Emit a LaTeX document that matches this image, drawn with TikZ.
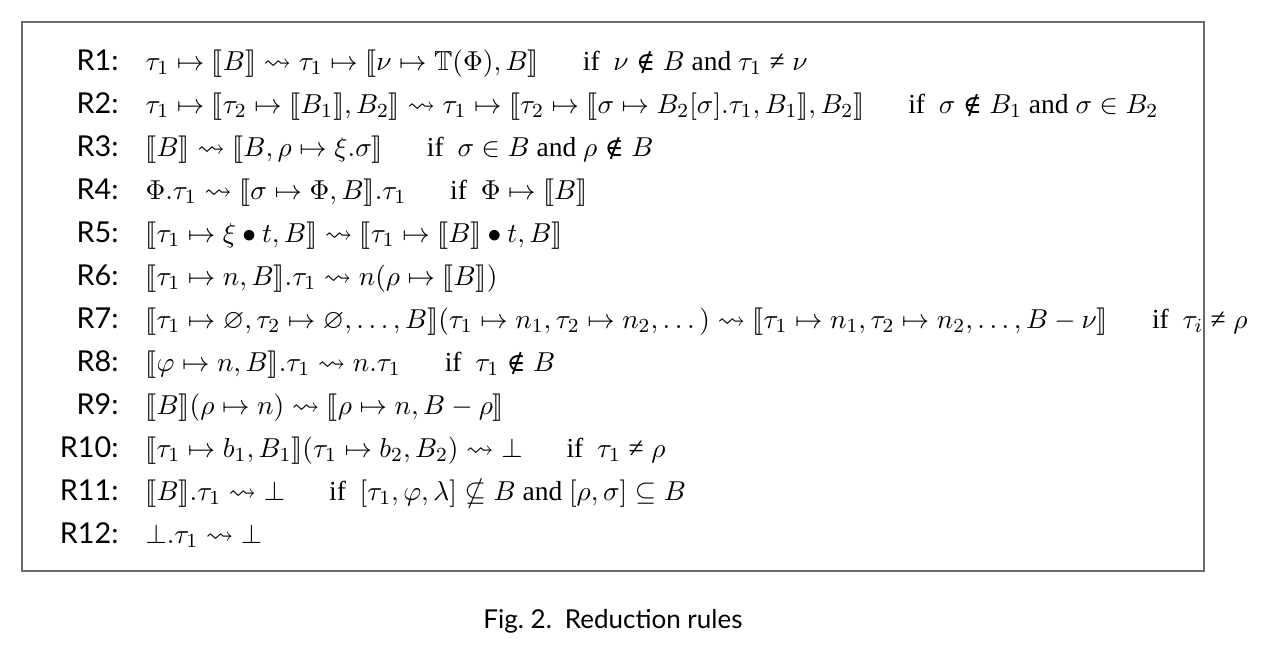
\documentclass[tikz,border=0pt]{standalone}
\usepackage{amsmath}
\usepackage{amssymb}
\usepackage{stmaryrd}
\usepackage{fontspec}
\setmainfont{Liberation Serif}
\setsansfont{Lato}
\newfontfamily\symfont[Scale=0.92]{DejaVu Serif}
\usepackage{tikz}
\usetikzlibrary{positioning}

\newcommand{\sem}[1]{\llbracket #1 \rrbracket}
\newcommand{\cond}[1]{\hspace{1.6em}\text{if}\ \ #1}
\newcommand{\nin}{\mathrel{\text{\symfont ∉}}}
\newcommand{\neqq}{\mathrel{\text{≠}}}

\tikzset{
    rulename/.style={anchor=base east, inner sep=0pt, font=\fontsize{11.5}{14}\sffamily},
    rulebody/.style={anchor=base west, inner sep=0pt, font=\fontsize{11}{13}\selectfont},
    frameline/.style={draw=black!58, line width=0.7pt}
}

\begin{document}
\begin{tikzpicture}[x=0.4pt, y=-0.4pt]
        \useasboundingbox (0,0) rectangle (1280,655);
        \draw[frameline] (22,22) rectangle (1204,571);

        \node[rulename] (l1) at (119,70) {R1:};
        \node[rulebody] (r1) at (145,70) {$\tau_1 \mapsto \sem{B} \leadsto \tau_1 \mapsto \sem{\nu \mapsto \mathbb{T}(\Phi), B} \cond{\nu \nin B \text{ and } \tau_1 \neqq \nu}$};
        \node[rulename] (l2) at (119,113) {R2:};
        \node[rulebody] (r2) at (145,113) {$\tau_1 \mapsto \sem{\tau_2 \mapsto \sem{B_1}, B_2} \leadsto \tau_1 \mapsto \sem{\tau_2 \mapsto \sem{\sigma \mapsto B_2[\sigma].\tau_1, B_1}, B_2} \cond{\sigma \nin B_1 \text{ and } \sigma \in B_2}$};
        \node[rulename] (l3) at (119,156) {R3:};
        \node[rulebody] (r3) at (145,156) {$\sem{B} \leadsto \sem{B, \rho \mapsto \xi.\sigma} \cond{\sigma \in B \text{ and } \rho \nin B}$};
        \node[rulename] (l4) at (119,199) {R4:};
        \node[rulebody] (r4) at (145,199) {$\Phi.\tau_1 \leadsto \sem{\sigma \mapsto \Phi, B}.\tau_1 \cond{\Phi \mapsto \sem{B}}$};
        \node[rulename] (l5) at (119,242) {R5:};
        \node[rulebody] (r5) at (145,242) {$\sem{\tau_1 \mapsto \xi \bullet t, B} \leadsto \sem{\tau_1 \mapsto \sem{B} \bullet t, B}$};
        \node[rulename] (l6) at (119,285) {R6:};
        \node[rulebody] (r6) at (145,285) {$\sem{\tau_1 \mapsto n, B}.\tau_1 \leadsto n(\rho \mapsto \sem{B})$};
        \node[rulename] (l7) at (119,328) {R7:};
        \node[rulebody] (r7) at (145,328) {$\sem{\tau_1 \mapsto \varnothing, \tau_2 \mapsto \varnothing, \ldots, B}(\tau_1 \mapsto n_1, \tau_2 \mapsto n_2, \ldots\,) \leadsto \sem{\tau_1 \mapsto n_1, \tau_2 \mapsto n_2, \ldots, B - \nu} \cond{\tau_i \neqq \rho}$};
        \node[rulename] (l8) at (119,371) {R8:};
        \node[rulebody] (r8) at (145,371) {$\sem{\varphi \mapsto n, B}.\tau_1 \leadsto n.\tau_1 \cond{\tau_1 \nin B}$};
        \node[rulename] (l9) at (119,414) {R9:};
        \node[rulebody] (r9) at (145,414) {$\sem{B}(\rho \mapsto n) \leadsto \sem{\rho \mapsto n, B - \rho}$};
        \node[rulename] (l10) at (119,457) {R10:};
        \node[rulebody] (r10) at (145,457) {$\sem{\tau_1 \mapsto b_1, B_1}(\tau_1 \mapsto b_2, B_2) \leadsto \bot \cond{\tau_1 \neqq \rho}$};
        \node[rulename] (l11) at (119,500) {R11:};
        \node[rulebody] (r11) at (145,500) {$\sem{B}.\tau_1 \leadsto \bot \cond{[\tau_1, \varphi, \lambda] \nsubseteq B \text{ and } [\rho, \sigma] \subseteq B}$};
        \node[rulename] (l12) at (119,543) {R12:};
        \node[rulebody] (r12) at (145,543) {$\bot.\tau_1 \leadsto \bot$};

        % caption under the frame
        \node[anchor=base, inner sep=0pt, font=\fontsize{10.4}{12}\sffamily] (cap) at (613,628) {Fig.~2.\enspace Reduction rules};
    \end{tikzpicture}
\end{document}
